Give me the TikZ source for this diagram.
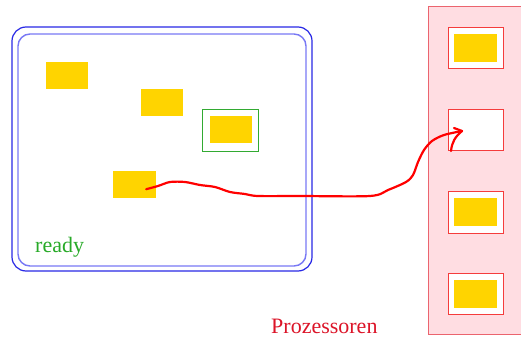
\documentclass[tikz,border=0pt]{standalone}
\usepackage{fontspec}
\setmainfont{Liberation Serif}
\usetikzlibrary{calc}
\begin{document}
\begin{tikzpicture}[x=1pt,y=-1pt,
  job/.style={fill=jobyellow, draw=none, minimum width=42pt, minimum height=27pt, inner sep=0pt, anchor=north west},
  slot/.style={fill=white, draw=slotred, line width=1pt, minimum width=55pt, minimum height=41pt, inner sep=0pt, anchor=north west},
  label/.style={inner sep=0pt, anchor=base west, font=\fontsize{22}{26}\selectfont},
  migrate/.style={draw=red, line width=2.2pt, line cap=round, line join=round}]
\definecolor{jobyellow}{RGB}{255,212,0}
\definecolor{readyblue}{RGB}{40,40,230}
\definecolor{readylight}{RGB}{120,120,245}
\definecolor{framegreen}{RGB}{50,170,50}
\definecolor{procpink}{RGB}{255,221,226}
\definecolor{procborder}{RGB}{235,100,110}
\definecolor{slotred}{RGB}{245,60,60}
\definecolor{readytext}{RGB}{40,170,40}
\definecolor{proctext}{RGB}{220,20,40}

\useasboundingbox (0,0) rectangle (521,339);
\fill[white] (0,0) rectangle (521,339);

% ready queue: double rounded frame
\draw[readyblue, line width=1.2pt, rounded corners=14pt] (12,27) rectangle (312,271);
\draw[readylight, line width=1.4pt, rounded corners=12pt] (18,34) rectangle (306,266);

% waiting jobs
\node[job] (j1) at (46,62) {};
\node[job] (j2) at (141,89) {};
\node[draw=framegreen, line width=1pt, fill=white, minimum width=56pt, minimum height=42pt, inner sep=0pt, anchor=north west] (sel) at (202,109) {};
\node[job] (j3) at (210,116) {};
\node[job, minimum width=43pt] (j4) at (113,171) {};
\node[label, text=readytext] (ready) at (35,252) {ready};

% processors
\draw[procborder, fill=procpink, line width=1pt] (428,7) rectangle (530,334);
\node[slot] (p1) at (448,27) {};
\node[slot] (p2) at (448,109) {};
\node[slot, minimum height=42pt] (p3) at (448,191) {};
\node[slot] (p4) at (448,273) {};
\node[job, minimum width=43pt, minimum height=28pt] (q1) at (454,34) {};
\node[job, minimum width=43pt, minimum height=28pt] (q3) at (454,198) {};
\node[job, minimum width=43pt, minimum height=28pt] (q4) at (454,280) {};
\node[label, text=proctext] (proc) at (271,333) {Prozessoren};

% hand-drawn dispatch arrow from the ready queue into the free processor
\coordinate (src) at ($(j4.center)+(11.5,4.5)$);
\coordinate (tip) at ($(p2.north west)+(14,22)$);
\coordinate (hook) at ($(p2.south west)+(3,0)$);
\draw[migrate] plot[smooth, tension=0.5] coordinates {
  (src) (158,186) (170,182) (185,182) (200,185) (215,187) (230,192)
  (245,194) (258,196) (300,196) (370,196) (388,190) (406,182)
  (413,175) (418,162) (424,150) (432,141) (444,135) (tip)};
\draw[migrate] (hook) .. controls (452,142) and (455,137) .. (tip);
\draw[migrate] ($(tip)+(-8,-3)$) -- (tip);
\end{tikzpicture}
\end{document}
